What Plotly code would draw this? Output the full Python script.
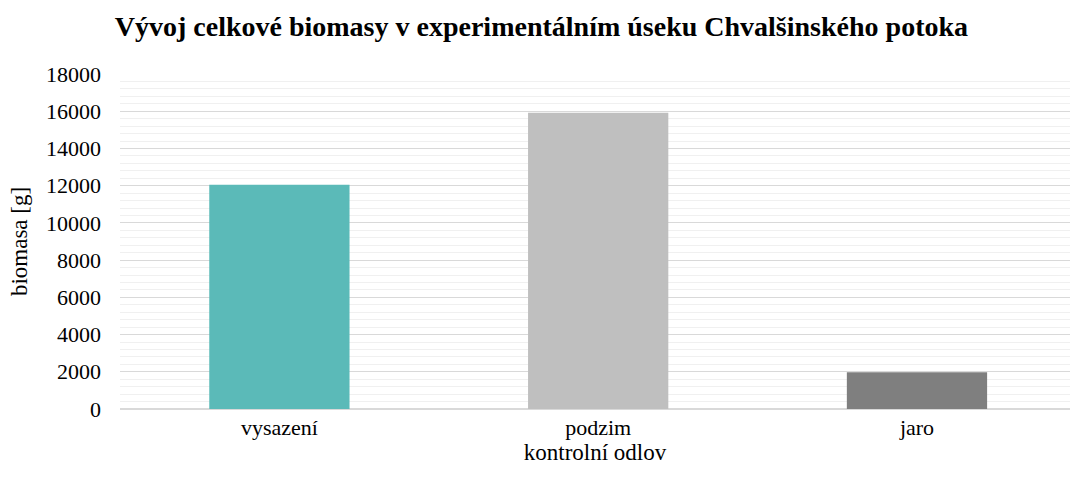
import plotly.graph_objects as go

# data
odlov = ["vysazení", "podzim", "jaro"]
biomasa = [12050, 15920, 1980]
barvy = ["#5BBAB8", "#BFBFBF", "#7F7F7F"]

y_ticks = [0, 2000, 4000, 6000, 8000, 10000, 12000, 14000, 16000, 18000]

font = "Liberation Serif, Times New Roman, serif"

fig = go.Figure()
fig.add_trace(go.Bar(
    x=odlov, y=biomasa,
    marker=dict(color=barvy, line=dict(width=0)),
    width=0.44,
))

fig.update_layout(
    width=1070, height=483,
    paper_bgcolor="white", plot_bgcolor="white",
    margin=dict(l=120, r=0, t=74, b=74),
    showlegend=False,
    font=dict(family=font, size=22, color="black"),
    title=dict(
        text="<b>Vývoj celkové biomasy v experimentálním úseku Chvalšinského potoka</b>",
        xref="container", x=0.506, xanchor="center",
        yref="container", y=0.945, yanchor="middle",
        font=dict(family=font, size=28, color="black"),
    ),
    xaxis=dict(
        range=[-0.5, 2.48],
        automargin=False,
        showgrid=False, showline=False, ticks="",
        ticklabelstandoff=3,
        tickfont=dict(size=22),
        title=dict(text="kontrolní odlov", font=dict(size=23), standoff=2),
    ),
    yaxis=dict(
        range=[0, 18000],
        automargin=False,
        tickvals=y_ticks,
        ticktext=[str(v) for v in y_ticks],
        showgrid=True, gridcolor="#D9D9D9", gridwidth=1.3,
        minor=dict(dtick=400, showgrid=True, gridcolor="#F0F0F0", gridwidth=1.3),
        zeroline=True, zerolinecolor="#D9D9D9", zerolinewidth=1.5,
        showline=False, ticks="",
        ticklabelstandoff=18,
        tickfont=dict(size=22),
        title=dict(text="biomasa [g]", font=dict(size=23), standoff=11),
    ),
)

fig.write_html("out.html", config={"displayModeBar": False},
               post_script="document.body.style.margin='0';")
